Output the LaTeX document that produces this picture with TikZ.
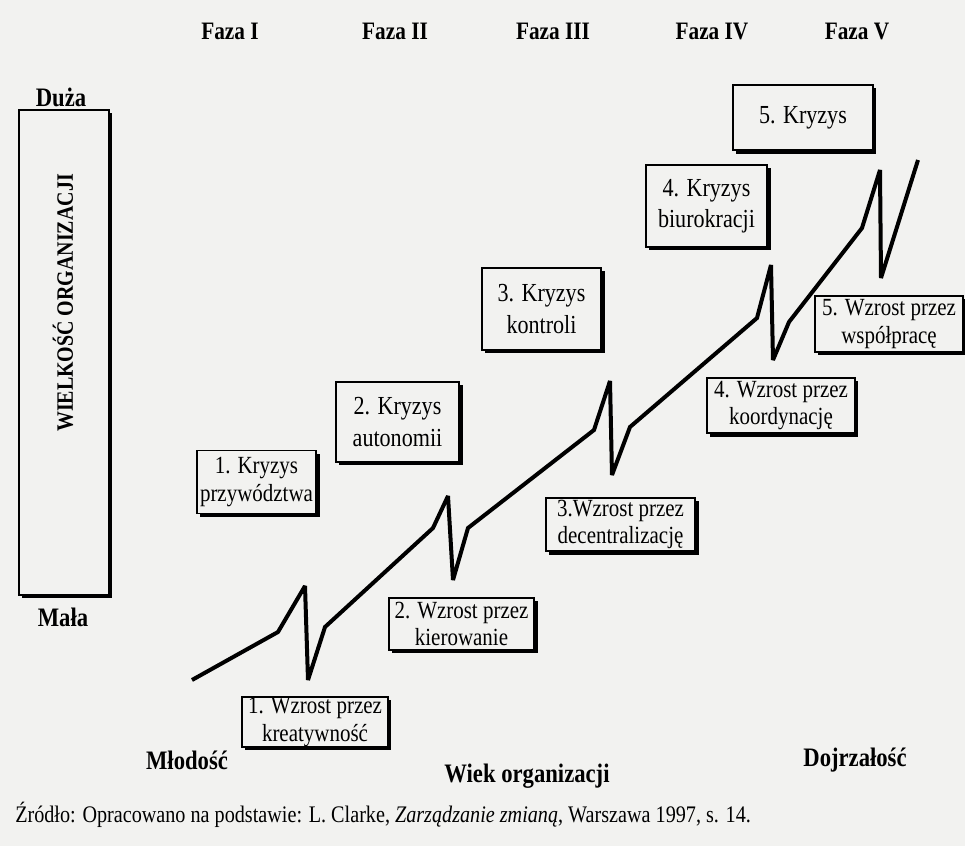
\documentclass[tikz,border=0pt]{standalone}
\usepackage{fontspec}
\setmainfont[FakeStretch=0.85]{Liberation Serif}
\usetikzlibrary{shadows}
\definecolor{paper}{HTML}{F2F2F0}
\begin{document}
\begin{tikzpicture}[x=0.75pt,y=-0.75pt,
  shad/.style={drop shadow={shadow xshift=2.6pt, shadow yshift=-2.6pt, fill=black, opacity=1}},
  gbox/.style={draw=black, line width=0.9pt, fill=paper, align=center, inner sep=0pt,
    font=\fontsize{18.5}{20.5}\selectfont, shad},
  kbox/.style={gbox, font=\fontsize{19.5}{23.5}\selectfont},
  lbl/.style={font=\fontsize{20}{23}\selectfont\bfseries},
  faza/.style={font=\fontsize{18.8}{22}\selectfont\bfseries},
  zig/.style={line width=3pt, line join=miter, miter limit=2}]
\fill[paper] (0,0) rectangle (965,846);
\useasboundingbox (0,0) rectangle (965,846);

% phase labels
\node[faza] (f1) at (230,31) {Faza I};
\node[faza] (f2) at (395,31) {Faza II};
\node[faza] (f3) at (553,31) {Faza III};
\node[faza] (f4) at (712,31) {Faza IV};
\node[faza] (f5) at (857,31) {Faza V};

% size axis
\node[lbl] (duza) at (61,97) {Duża};
\node[lbl] (mala) at (63,617) {Mała};
\node[draw=black, line width=0.9pt, fill=paper, inner sep=0pt, minimum width=67.5pt, minimum height=363.75pt, shad] (size) at (64,352.5) {};
\node[font=\fontsize{17.6}{20}\selectfont\bfseries, inner sep=0pt] (sizet) at (63,303) {\rotatebox{90}{WIELKOŚĆ ORGANIZACJI}};

% crises
\node[gbox, font=\fontsize{18.5}{21}\selectfont, minimum width=89.3pt, minimum height=47.3pt] (k1) at (256.5,482) {1. Kryzys\\przywództwa};
\node[kbox, minimum width=92.3pt, minimum height=60pt] (k2) at (397.5,422) {2. Kryzys\\autonomii};
\node[kbox, minimum width=89.3pt, minimum height=61.5pt] (k3) at (541.5,309) {3. Kryzys\\kontroli};
\node[kbox, minimum width=90.8pt, minimum height=61.5pt] (k4) at (706.5,206) {4. Kryzys\\biurokracji};
\node[kbox, minimum width=105pt, minimum height=48.8pt] (k5) at (803,117.5) {5. Kryzys};

% growth phases
\node[gbox, minimum width=109.5pt, minimum height=37.5pt] (w1) at (315,722) {1. Wzrost przez\\kreatywność};
\node[gbox, minimum width=108.8pt, minimum height=39pt] (w2) at (461.5,624) {2. Wzrost przez\\kierowanie};
\node[gbox, minimum width=111.8pt, minimum height=39.8pt] (w3) at (620.5,524.5) {3.Wzrost przez\\decentralizację};
\node[gbox, minimum width=111pt, minimum height=41.3pt] (w4) at (781,405.5) {4. Wzrost przez\\koordynację};
\node[gbox, minimum width=111pt, minimum height=42pt] (w5) at (889,324) {5. Wzrost przez\\współpracę};

% growth curve
\coordinate (z0) at (192,680);
\coordinate (z1) at (278,632);
\coordinate (z2) at (305,586);
\coordinate (z3) at (308,680);
\coordinate (z4) at (325,627);
\coordinate (z5) at (433,528);
\coordinate (z6) at (448,496);
\coordinate (z7) at (453,580);
\coordinate (z8) at (468,528);
\coordinate (z9) at (594,430);
\coordinate (z10) at (610,381);
\coordinate (z11) at (612,475);
\coordinate (z12) at (630,427);
\coordinate (z13) at (757,318);
\coordinate (z14) at (771,265);
\coordinate (z15) at (773,360);
\coordinate (z16) at (789,322);
\coordinate (z17) at (862,228);
\coordinate (z18) at (880,170);
\coordinate (z19) at (881,278);
\coordinate (z20) at (918,160);
\draw[zig] (z0) -- (z1) -- (z2) -- (z3) -- (z4) -- (z5) -- (z6) -- (z7) -- (z8) -- (z9) -- (z10) -- (z11) -- (z12) -- (z13) -- (z14) -- (z15) -- (z16) -- (z17) -- (z18) -- (z19) -- (z20);

% age axis
\node[lbl] (mlod) at (187,760) {Młodość};
\node[lbl] (wiek) at (527,776) {Wiek organizacji};
\node[lbl] (dojr) at (855,760) {Dojrzałość};

% source
\node[anchor=west, inner sep=0pt, font=\fontsize{17.8}{20}\selectfont] (src) at (15,815) {Źródło: Opracowano na podstawie: L. Clarke, \textit{Zarządzanie zmianą}, Warszawa 1997, s. 14.};
\end{tikzpicture}
\end{document}
